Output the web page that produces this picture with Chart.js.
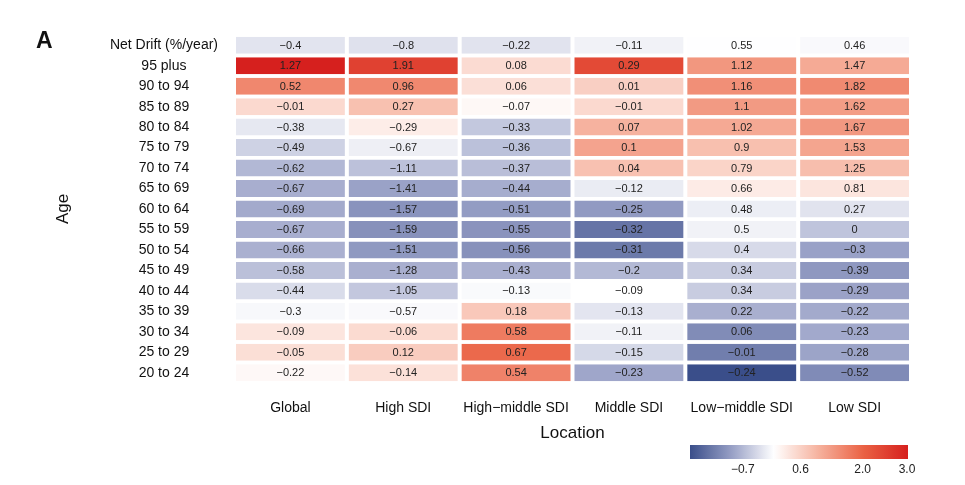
<!DOCTYPE html>
<html>
<head>
<meta charset="utf-8">
<script src="https://cdn.jsdelivr.net/npm/chart.js@4"></script>
<style>
  html, body { margin: 0; padding: 0; background: #fff; }
  #wrap { width: 965px; height: 485px; }
</style>
</head>
<body>
<div id="wrap"><canvas id="driftChart" width="965" height="485"></canvas></div>
<script>
// rows of the heatmap (top to bottom)
const ageGroups = ['Net Drift (%/year)', '95 plus', '90 to 94', '85 to 89', '80 to 84', '75 to 79',
  '70 to 74', '65 to 69', '60 to 64', '55 to 59', '50 to 54', '45 to 49', '40 to 44',
  '35 to 39', '30 to 34', '25 to 29', '20 to 24'];

// columns
const locations = ['Global', 'High SDI', 'High\u2212middle SDI', 'Middle SDI', 'Low\u2212middle SDI', 'Low SDI'];

// values per column, same order as ageGroups
const globalVals = [-0.4, 1.27, 0.52, -0.01, -0.38, -0.49, -0.62, -0.67, -0.69, -0.67, -0.66, -0.58, -0.44, -0.3, -0.09, -0.05, -0.22];
const highSdiVals = [-0.8, 1.91, 0.96, 0.27, -0.29, -0.67, -1.11, -1.41, -1.57, -1.59, -1.51, -1.28, -1.05, -0.57, -0.06, 0.12, -0.14];
const highMiddleSdiVals = [-0.22, 0.08, 0.06, -0.07, -0.33, -0.36, -0.37, -0.44, -0.51, -0.55, -0.56, -0.43, -0.13, 0.18, 0.58, 0.67, 0.54];
const middleSdiVals = [-0.11, 0.29, 0.01, -0.01, 0.07, 0.1, 0.04, -0.12, -0.25, -0.32, -0.31, -0.2, -0.09, -0.13, -0.11, -0.15, -0.23];
const lowMiddleSdiVals = [0.55, 1.12, 1.16, 1.1, 1.02, 0.9, 0.79, 0.66, 0.48, 0.5, 0.4, 0.34, 0.34, 0.22, 0.06, -0.01, -0.24];
const lowSdiVals = [0.46, 1.47, 1.82, 1.62, 1.67, 1.53, 1.25, 0.81, 0.27, 0, -0.3, -0.39, -0.29, -0.22, -0.23, -0.28, -0.52];

const columns = [globalVals, highSdiVals, highMiddleSdiVals, middleSdiVals, lowMiddleSdiVals, lowSdiVals];

// colour key tick labels
const legendTicks = [-0.7, 0.6, 2.0, 3.0];

// colours are scaled per column (z-score), like pheatmap scale = "column"
function zScores(vals) {
    let mean = vals.reduce((a, b) => a + b, 0) / vals.length;
    let sd = Math.sqrt(vals.reduce((a, b) => a + (b - mean) * (b - mean), 0) / (vals.length - 1));
    return vals.map(v => (v - mean) / sd);
}
const zCols = columns.map(zScores);
const allZ = zCols.flat();
const zMin = Math.min(...allZ);
const zMax = Math.max(...allZ);

const blueStops = [[255, 255, 255], [152, 160, 198], [58, 78, 138]];
const redStops = [[255, 255, 255], [246, 178, 158], [234, 98, 68], [214, 32, 30]];

function ramp(stops, t) {
    t = Math.max(0, Math.min(1, t));
    let pos = t * (stops.length - 1);
    let i = Math.min(Math.floor(pos), stops.length - 2);
    let f = pos - i;
    let c = stops[i].map((v, k) => Math.round(v + (stops[i + 1][k] - v) * f));
    return `rgb(${c[0]},${c[1]},${c[2]})`;
}

function colorFor(z) {
    if (z < 0) return ramp(blueStops, z / zMin);
    return ramp(redStops, z / zMax);
}

function fmt(v) {
    return String(v).replace('-', '\u2212');
}

const datasets = locations.map((loc, c) => ({
    label: loc,
    data: ageGroups.map(() => [c, c + 1]),
    values: columns[c],
    backgroundColor: zCols[c].map(colorFor),
    borderColor: '#ffffff',
    borderWidth: { left: 2, right: 2, top: 0, bottom: 0 },
    borderSkipped: false,
    barPercentage: 0.83,
    categoryPercentage: 1.0,
    grouped: false
}));

const cellLabels = {
    id: 'cellLabels',
    afterDatasetsDraw(chart) {
        let ctx = chart.ctx;
        ctx.save();
        ctx.font = '11px "Liberation Sans", Arial, sans-serif';
        ctx.fillStyle = '#222';
        ctx.textAlign = 'center';
        ctx.textBaseline = 'middle';
        chart.data.datasets.forEach((ds, i) => {
            chart.getDatasetMeta(i).data.forEach((bar, j) => {
                let p = bar.getCenterPoint();
                ctx.fillText(fmt(ds.values[j]), p.x, p.y + 0.5);
            });
        });
        ctx.restore();
    }
};

const extras = {
    id: 'extras',
    afterDraw(chart) {
        let ctx = chart.ctx;
        ctx.save();
        // panel letter
        ctx.font = 'bold 23px "Liberation Sans", Arial, sans-serif';
        ctx.fillStyle = '#111';
        ctx.textAlign = 'left';
        ctx.textBaseline = 'alphabetic';
        ctx.fillText('A', 36, 48);

        // colour key
        let left = 690, right = 908, top = 445, bottom = 459;
        let grad = ctx.createLinearGradient(left, 0, right, 0);
        for (let k = 0; k <= 60; k++) {
            let z = zMin + (zMax - zMin) * k / 60;
            grad.addColorStop(k / 60, colorFor(z));
        }
        ctx.fillStyle = grad;
        ctx.fillRect(left, top, right - left, bottom - top);

        ctx.font = '12px "Liberation Sans", Arial, sans-serif';
        ctx.fillStyle = '#222';
        ctx.textAlign = 'center';
        ctx.textBaseline = 'middle';
        legendTicks.forEach(t => {
            let x = left + (t - zMin) / (zMax - zMin) * (right - left);
            ctx.fillText(fmt(t.toFixed(1)), x, 470);
        });
        ctx.restore();
    }
};

const ctx = document.getElementById('driftChart').getContext('2d');
new Chart(ctx, {
    type: 'bar',
    data: { labels: ageGroups, datasets: datasets },
    options: {
        indexAxis: 'y',
        responsive: false,
        animation: false,
        layout: { padding: { top: 35, right: 54, bottom: 41, left: 0 } },
        plugins: {
            legend: { display: false },
            tooltip: { enabled: false }
        },
        scales: {
            x: {
                type: 'linear',
                position: 'bottom',
                min: 0,
                max: locations.length,
                grid: { display: false },
                border: { display: false },
                afterBuildTicks: axis => {
                    axis.ticks = locations.map((_, i) => ({ value: i + 0.5 }));
                },
                afterFit: scale => { scale.height = 61; },
                ticks: {
                    callback: value => locations[Math.floor(value)],
                    font: { size: 14, family: '"Liberation Sans", Arial, sans-serif' },
                    color: '#111',
                    padding: 9,
                    maxRotation: 0,
                    autoSkip: false
                },
                title: {
                    display: true,
                    text: 'Location',
                    font: { size: 17, family: '"Liberation Sans", Arial, sans-serif' },
                    color: '#111',
                    padding: { top: 0, bottom: 0 }
                }
            },
            y: {
                type: 'category',
                grid: { display: false },
                border: { display: false },
                afterFit: scale => { scale.width = 234; },
                ticks: {
                    crossAlign: 'center',
                    padding: 8,
                    font: { size: 14, family: '"Liberation Sans", Arial, sans-serif' },
                    color: '#111',
                    autoSkip: false
                },
                title: {
                    display: true,
                    text: 'Age',
                    font: { size: 17, family: '"Liberation Sans", Arial, sans-serif' },
                    color: '#111',
                    padding: { top: 53, bottom: 0 }
                }
            }
        }
    },
    plugins: [cellLabels, extras]
});
</script>
</body>
</html>
